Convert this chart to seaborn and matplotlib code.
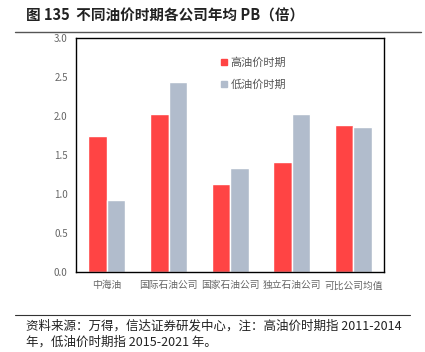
import pandas as pd
import matplotlib.pyplot as plt
import seaborn as sns
from matplotlib.lines import Line2D

sns.set_theme(style="white")
plt.rcParams['font.family'] = ['Noto Sans CJK SC', 'DejaVu Sans']

companies = ['中海油', '国际石油公司', '国家石油公司', '独立石油公司', '可比公司均值']
high_pb = [1.74, 2.02, 1.13, 1.41, 1.89]
low_pb = [0.93, 2.44, 1.34, 2.02, 1.86]
periods = ['高油价时期', '低油价时期']
colors = ['#FF4444', '#B1BCCC']

df = pd.DataFrame({
    '公司': companies * 2,
    'PB': high_pb + low_pb,
    '时期': [periods[0]] * 5 + [periods[1]] * 5,
})

fig = plt.figure(figsize=(4.25, 3.52), dpi=100)
ax = fig.add_axes([0.179, 0.227, 0.725, 0.665])
sns.barplot(data=df, x='公司', y='PB', hue='时期', palette=colors,
            width=0.6, ax=ax, saturation=1)

ax.set_ylim(0, 3.0)
ax.set_yticks([0, 0.5, 1.0, 1.5, 2.0, 2.5, 3.0])
ax.set_yticklabels([f'{v:.1f}' for v in ax.get_yticks()])
ax.set_xlabel('')
ax.set_ylabel('')
ax.tick_params(axis='both', labelsize=7, labelcolor='#666666', length=0, pad=6)
for s in ax.spines.values():
    s.set_color('black')
    s.set_linewidth(1.0)

ax.legend(handles=[Line2D([], [], marker='s', color=c, linestyle='', markersize=4.5)
                   for c in colors],
          labels=periods, loc='upper left', bbox_to_anchor=(0.43, 0.96),
          frameon=False, fontsize=8, labelcolor='#555555',
          handletextpad=0.1, labelspacing=1.0, handlelength=1.0)

fig.text(0.06, 0.955, '图 135  不同油价时期各公司年均 PB（倍）', fontsize=10.5,
         fontweight='bold', color='#222222', va='center')
fig.add_artist(Line2D([0.035, 0.99], [0.909, 0.909], color='#555555', lw=1.0))
fig.add_artist(Line2D([0.035, 0.965], [0.105, 0.105], color='#333333', lw=0.8))
fig.text(0.06, 0.073, '资料来源：万得，信达证券研发中心，注：高油价时期指 2011-2014',
         fontsize=9, style='italic', color='#222222', va='center')
fig.text(0.06, 0.028, '年，低油价时期指 2015-2021 年。',
         fontsize=9, style='italic', color='#222222', va='center')

fig.savefig('out.png', dpi=100)
